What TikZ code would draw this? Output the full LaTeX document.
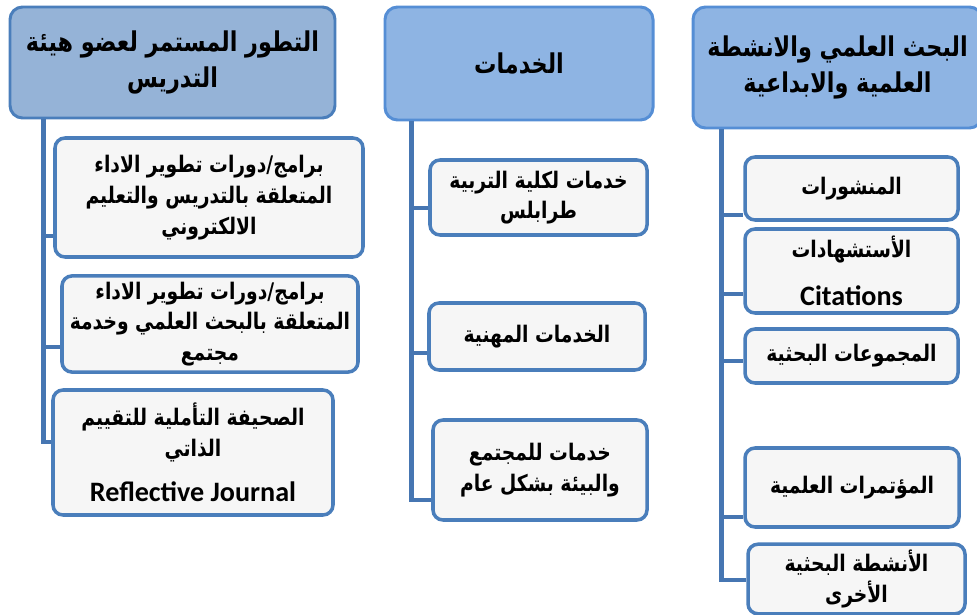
\documentclass[tikz,border=0pt]{standalone}
\usepackage{fontspec}
\setmainfont{Carlito}
\newfontfamily\arabicfont[Script=Arabic, FakeStretch=0.82]{DejaVu Sans}
\TeXXeTstate=1
\usepackage{tikz}
\definecolor{headfill}{RGB}{142,180,227}
\definecolor{headfilltwo}{RGB}{149,179,215}
\definecolor{headline}{RGB}{85,142,213}
\definecolor{subfill}{RGB}{246,246,246}
\definecolor{subline}{RGB}{74,126,187}
\definecolor{linkcol}{RGB}{70,118,178}
\newcommand{\artxt}[1]{{\arabicfont\beginR #1\endR}}
\newcommand{\entxt}[1]{{\fontsize{16}{19}\selectfont #1}}

\tikzset{
    head/.style={draw=headline, fill=headfill, line width=1.7pt, rounded corners=0.25cm,
        align=center, inner xsep=2pt, font=\bfseries\fontsize{15.5}{21}\selectfont},
    sub/.style={draw=subline, fill=subfill, line width=2pt, rounded corners=0.2cm,
        align=center, inner xsep=2pt, font=\bfseries\fontsize{13}{17.5}\selectfont},
    link/.style={draw=linkcol, line width=2.3pt}
}

\begin{document}
\begin{tikzpicture}
    \useasboundingbox (0,0) rectangle (19.54,-12.3);

    % Headers
    \node[head, fill=headfilltwo, draw=subline, minimum width=6.5cm, minimum height=2.22cm] at (3.45,-1.25) (hL) {\artxt{التطور المستمر لعضو هيئة}\\ \artxt{التدريس}};
    \node[head, minimum width=5.36cm, minimum height=2.26cm] at (10.38,-1.27) (hM) {\artxt{الخدمات}};
    \node[head, minimum width=5.78cm, minimum height=2.42cm] at (16.75,-1.35) (hR) {\artxt{البحث العلمي والانشطة}\\ \artxt{العلمية والابداعية}};

    % Left column
    \node[sub, minimum width=6.16cm, minimum height=2.38cm] at (4.18,-3.95) (t1) {\artxt{برامج/دورات تطوير الاداء}\\ \artxt{المتعلقة بالتدريس والتعليم}\\ \artxt{الالكتروني}};
    \node[sub, minimum width=5.92cm, minimum height=1.88cm] at (4.20,-6.48) (t2) {\artxt{برامج/دورات تطوير الاداء}\\ \artxt{المتعلقة بالبحث العلمي وخدمة}\\ \artxt{مجتمع}};
    \node[sub, minimum width=5.60cm, minimum height=2.50cm] at (3.86,-9.05) (t3) {\artxt{الصحيفة التأملية للتقييم}\\ \artxt{الذاتي}\\[8pt] \entxt{Reflective Journal}};

    % Middle column
    \node[sub, minimum width=4.34cm, minimum height=1.50cm] at (10.77,-3.95) (s1) {\artxt{خدمات لكلية التربية}\\ \artxt{طرابلس}};
    \node[sub, minimum width=4.32cm, minimum height=1.34cm] at (10.74,-6.73) (s2) {\artxt{الخدمات المهنية}};
    \node[sub, minimum width=4.28cm, minimum height=2.00cm] at (10.80,-9.40) (s3) {\artxt{خدمات للمجتمع}\\ \artxt{والبيئة بشكل عام}};

    % Right column
    \node[sub, minimum width=4.26cm, minimum height=1.26cm] at (17.03,-3.77) (pub) {\artxt{المنشورات}};
    \node[sub, minimum width=4.26cm, minimum height=1.68cm] at (17.03,-5.42) (cit) {\artxt{الأستشهادات}\\[10pt] \entxt{Citations}};
    \node[sub, minimum width=4.26cm, minimum height=1.08cm] at (17.03,-7.12) (grp) {\artxt{المجموعات البحثية}};
    \node[sub, minimum width=4.28cm, minimum height=1.58cm] at (17.04,-9.75) (conf) {\artxt{المؤتمرات العلمية}};
    \node[sub, minimum width=4.34cm, minimum height=1.36cm] at (17.13,-11.58) (oth) {\artxt{الأنشطة البحثية}\\ \artxt{الأخرى}};

    % Connectors
    \coordinate (sL) at ([xshift=0.70cm]hL.south west);
    \coordinate (sM) at ([xshift=0.56cm]hM.south west);
    \coordinate (sR) at ([xshift=0.60cm]hR.south west);
    \draw[link] (sL) |- ([yshift=-0.77cm]t1.west);
    \draw[link] (sL) |- ([yshift=-0.46cm]t2.west);
    \draw[link] (sL) |- ([yshift=0.21cm]t3.west);
    \draw[link] (sM) |- ([yshift=-0.21cm]s1.west);
    \draw[link] (sM) |- ([yshift=-0.33cm]s2.west);
    \draw[link] (sM) |- ([yshift=-0.60cm]s3.west);
    \draw[link] (sR) |- ([yshift=-0.53cm]pub.west);
    \draw[link] (sR) |- ([yshift=-0.46cm]cit.west);
    \draw[link] (sR) |- ([yshift=-0.10cm]grp.west);
    \draw[link] (sR) |- ([yshift=-0.59cm]conf.west);
    \draw[link] (sR) |- ([yshift=-0.02cm]oth.west);
\end{tikzpicture}
\end{document}
